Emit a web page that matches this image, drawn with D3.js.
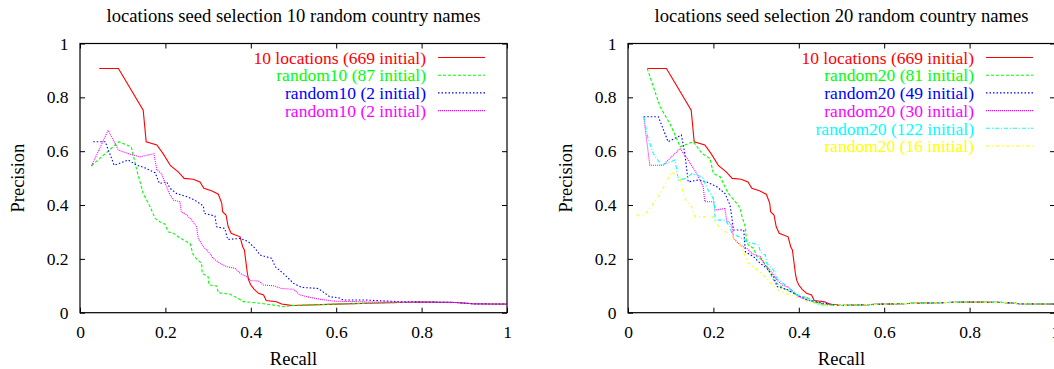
<!DOCTYPE html>
<html>
<head>
<meta charset="utf-8">
<script src="https://d3js.org/d3.v7.min.js"></script>
<style>
  body { margin: 0; background: #fff; }
  svg { display: block; }
  text { font-family: "Liberation Serif", "Times New Roman", serif; }
</style>
</head>
<body>
<script>
// ---- data (recall, precision) ----
let tail = [[0.5, 0.027], [0.6, 0.032], [0.7, 0.036], [0.8, 0.040], [0.88, 0.038], [0.92, 0.033], [1.0, 0.032]];

let locations10 = [[0.045, 0.907], [0.09, 0.907], [0.148, 0.752], [0.155, 0.635], [0.18, 0.623], [0.195, 0.59],
  [0.212, 0.546], [0.23, 0.523], [0.244, 0.499], [0.265, 0.496], [0.281, 0.486], [0.29, 0.462], [0.308, 0.453],
  [0.324, 0.44], [0.332, 0.406], [0.334, 0.375], [0.342, 0.363], [0.347, 0.32], [0.354, 0.295], [0.375, 0.282],
  [0.381, 0.245], [0.385, 0.233], [0.389, 0.183], [0.392, 0.146], [0.395, 0.121], [0.4, 0.103], [0.408, 0.087],
  [0.418, 0.072], [0.43, 0.066], [0.436, 0.045], [0.46, 0.041], [0.472, 0.032], [0.49, 0.028]].concat(tail);

let random10_87 = [[0.027, 0.546], [0.091, 0.635], [0.12, 0.616], [0.133, 0.53], [0.148, 0.443], [0.164, 0.394],
  [0.176, 0.35], [0.187, 0.338], [0.199, 0.329], [0.207, 0.3], [0.219, 0.295], [0.23, 0.282], [0.246, 0.267],
  [0.258, 0.257], [0.264, 0.22], [0.273, 0.2], [0.285, 0.183], [0.286, 0.146], [0.3, 0.134], [0.302, 0.103],
  [0.32, 0.099], [0.324, 0.074], [0.351, 0.069], [0.367, 0.056], [0.383, 0.041], [0.422, 0.035], [0.46, 0.027],
  [0.476, 0.022], [0.49, 0.025]].concat(tail);

let random10_2a = [[0.031, 0.635], [0.059, 0.635], [0.08, 0.548], [0.113, 0.567], [0.133, 0.548], [0.152, 0.538],
  [0.176, 0.52], [0.186, 0.48], [0.203, 0.486], [0.211, 0.462], [0.226, 0.443], [0.25, 0.431], [0.269, 0.418],
  [0.289, 0.396], [0.291, 0.369], [0.316, 0.359], [0.32, 0.319], [0.339, 0.313], [0.346, 0.272], [0.375, 0.276],
  [0.394, 0.264], [0.41, 0.239], [0.422, 0.214], [0.449, 0.202], [0.457, 0.171], [0.476, 0.146], [0.5, 0.109],
  [0.519, 0.094], [0.558, 0.09], [0.574, 0.072], [0.585, 0.059], [0.605, 0.056], [0.617, 0.047], [0.671, 0.047],
  [0.749, 0.041], [0.8, 0.040], [0.88, 0.038], [0.92, 0.033], [1.0, 0.032]];

let random10_2b = [[0.027, 0.546], [0.066, 0.678], [0.09, 0.604], [0.117, 0.589], [0.141, 0.579], [0.173, 0.591],
  [0.18, 0.53], [0.191, 0.517], [0.201, 0.474], [0.211, 0.437], [0.219, 0.418], [0.234, 0.412], [0.237, 0.375],
  [0.25, 0.363], [0.262, 0.344], [0.273, 0.319], [0.277, 0.276], [0.289, 0.245], [0.301, 0.226], [0.312, 0.202],
  [0.328, 0.183], [0.343, 0.171], [0.363, 0.165], [0.375, 0.146], [0.39, 0.134], [0.4, 0.119], [0.418, 0.118],
  [0.429, 0.103], [0.453, 0.1], [0.472, 0.09], [0.5, 0.087], [0.515, 0.066], [0.539, 0.057], [0.562, 0.05],
  [0.593, 0.043], [0.671, 0.040], [0.8, 0.040], [0.88, 0.038], [0.92, 0.033], [1.0, 0.032]];

let random20_81 = [[0.045, 0.907], [0.075, 0.765], [0.098, 0.703], [0.114, 0.647], [0.122, 0.616], [0.153, 0.635],
  [0.173, 0.592], [0.192, 0.573], [0.2, 0.517], [0.216, 0.505], [0.227, 0.468], [0.235, 0.443], [0.255, 0.406],
  [0.263, 0.387], [0.267, 0.356], [0.275, 0.319], [0.277, 0.27], [0.282, 0.251], [0.294, 0.239], [0.302, 0.208],
  [0.314, 0.196], [0.325, 0.171], [0.333, 0.146], [0.341, 0.121], [0.357, 0.097], [0.38, 0.078], [0.4, 0.062],
  [0.42, 0.056], [0.435, 0.041], [0.459, 0.032], [0.49, 0.028]].concat(tail);

let random20_49 = [[0.037, 0.728], [0.071, 0.728], [0.094, 0.635], [0.125, 0.66], [0.133, 0.592], [0.141, 0.486],
  [0.165, 0.493], [0.184, 0.486], [0.208, 0.468], [0.227, 0.443], [0.239, 0.4], [0.243, 0.356], [0.247, 0.307],
  [0.271, 0.307], [0.275, 0.226], [0.294, 0.208], [0.31, 0.183], [0.325, 0.165], [0.341, 0.134], [0.349, 0.097],
  [0.376, 0.084], [0.404, 0.059], [0.42, 0.047], [0.459, 0.035], [0.49, 0.028]].concat(tail);

let random20_30 = [[0.037, 0.728], [0.051, 0.548], [0.082, 0.548], [0.122, 0.61], [0.141, 0.567], [0.161, 0.517],
  [0.176, 0.468], [0.18, 0.412], [0.2, 0.412], [0.204, 0.381], [0.227, 0.387], [0.231, 0.344], [0.243, 0.325],
  [0.247, 0.276], [0.263, 0.251], [0.278, 0.239], [0.29, 0.22], [0.31, 0.208], [0.318, 0.183], [0.333, 0.158],
  [0.349, 0.121], [0.361, 0.103], [0.376, 0.094], [0.388, 0.078], [0.4, 0.059], [0.42, 0.047], [0.459, 0.032],
  [0.49, 0.028]].concat(tail);

let random20_122 = [[0.037, 0.728], [0.047, 0.647], [0.059, 0.592], [0.078, 0.548], [0.11, 0.567], [0.118, 0.493],
  [0.137, 0.499], [0.149, 0.517], [0.173, 0.505], [0.188, 0.455], [0.202, 0.418], [0.204, 0.344], [0.227, 0.344],
  [0.239, 0.319], [0.243, 0.295], [0.267, 0.276], [0.278, 0.264], [0.294, 0.257], [0.306, 0.251], [0.31, 0.226],
  [0.322, 0.214], [0.325, 0.183], [0.341, 0.158], [0.349, 0.127], [0.373, 0.097], [0.396, 0.066], [0.42, 0.053],
  [0.443, 0.032], [0.467, 0.026], [0.49, 0.027]].concat(tail);

let random20_16 = [[0.02, 0.363], [0.039, 0.363], [0.059, 0.406], [0.078, 0.449], [0.102, 0.523], [0.122, 0.499],
  [0.128, 0.449], [0.137, 0.412], [0.149, 0.394], [0.157, 0.356], [0.184, 0.356], [0.196, 0.363], [0.204, 0.338],
  [0.22, 0.307], [0.235, 0.295], [0.247, 0.276], [0.263, 0.251], [0.275, 0.208], [0.282, 0.183], [0.298, 0.165],
  [0.306, 0.156], [0.325, 0.127], [0.341, 0.097], [0.357, 0.078], [0.38, 0.066], [0.404, 0.053], [0.42, 0.041],
  [0.459, 0.028], [0.49, 0.027]].concat(tail);

let titles = ["locations seed selection 10 random country names", "locations seed selection 20 random country names"];
let labels10 = ["10 locations (669 initial)", "random10 (87 initial)", "random10 (2 initial)", "random10 (2 initial)"];
let labels20 = ["10 locations (669 initial)", "random20 (81 initial)", "random20 (49 initial)", "random20 (30 initial)",
  "random20 (122 initial)", "random20 (16 initial)"];
let ticks = [0, 0.2, 0.4, 0.6, 0.8, 1];

// gnuplot style line types
let colors = ["#ff0000", "#00ff00", "#0000ff", "#ff00ff", "#00ffff", "#ffff00"];
let dashes = [null, "3,2", "1.5,2", "1,1", "4,2,1,2", "3,3,1,3"];

let W = 1054, H = 369;
let plotW = 427, plotTop = 43.5, plotBottom = 312.7;
let fontSize = 17.5;

let svg = d3.select("body").append("svg").attr("width", W).attr("height", H);

function drawPanel(x0, title, series, labels) {
  let x = d3.scaleLinear().domain([0, 1]).range([x0, x0 + plotW]);
  let y = d3.scaleLinear().domain([0, 1]).range([plotBottom, plotTop]);
  let g = svg.append("g");

  // axes, gnuplot style inward ticks on all four sides
  let fmt = d => String(d);
  let ax = g.append("g").attr("transform", `translate(0,${plotBottom})`)
    .call(d3.axisBottom(x).tickValues(ticks).tickFormat(fmt).tickSizeInner(-5).tickSizeOuter(0).tickPadding(12.5));
  g.append("g").attr("transform", `translate(${x0},0)`)
    .call(d3.axisLeft(y).tickValues(ticks).tickFormat(fmt).tickSizeInner(-5).tickSizeOuter(0).tickPadding(11.5));
  g.append("g").attr("transform", `translate(0,${plotTop})`)
    .call(d3.axisTop(x).tickValues(ticks).tickFormat("").tickSizeInner(-5).tickSizeOuter(0));
  g.append("g").attr("transform", `translate(${x0 + plotW},0)`)
    .call(d3.axisRight(y).tickValues(ticks).tickFormat("").tickSizeInner(-5).tickSizeOuter(0));
  g.selectAll(".domain").remove();
  g.selectAll(".tick line").attr("stroke", "#000");
  g.selectAll(".tick text").attr("font-family", "Liberation Serif").attr("font-size", fontSize).attr("fill", "#000");
  ax.selectAll(".tick text").attr("dy", "0.71em");

  g.append("rect").attr("x", x0).attr("y", plotTop).attr("width", plotW).attr("height", plotBottom - plotTop)
    .attr("fill", "none").attr("stroke", "#000").attr("stroke-width", 1.2);

  // title and axis labels
  g.append("text").attr("x", x0 + plotW / 2).attr("y", 22).attr("text-anchor", "middle")
    .attr("font-size", 18.6).text(title);
  g.append("text").attr("x", x0 + plotW / 2).attr("y", 364.5).attr("text-anchor", "middle")
    .attr("font-size", fontSize + 1).text("Recall");
  g.append("text").attr("transform", `translate(${x0 - 56.5},${(plotTop + plotBottom) / 2}) rotate(-90)`)
    .attr("text-anchor", "middle").attr("font-size", fontSize + 1).text("Precision");

  // curves
  let line = d3.line().x(d => x(d[0])).y(d => y(d[1]));
  series.forEach((s, i) => {
    g.append("path").datum(s).attr("d", line).attr("fill", "none")
      .attr("stroke", colors[i]).attr("stroke-width", 1.1)
      .attr("stroke-dasharray", dashes[i]);
  });

  // key
  let xr = x0 + plotW;
  labels.forEach((lab, i) => {
    let yy = 58 + i * 17.7;
    g.append("text").attr("x", xr - 81).attr("y", yy).attr("dy", "0.33em").attr("text-anchor", "end")
      .attr("font-size", fontSize).attr("fill", colors[i]).text(lab);
    g.append("line").attr("x1", xr - 69).attr("x2", xr - 22).attr("y1", yy - 0.5).attr("y2", yy - 0.5)
      .attr("stroke", colors[i]).attr("stroke-width", 1.1).attr("stroke-dasharray", dashes[i]);
  });
}

drawPanel(80, titles[0], [locations10, random10_87, random10_2a, random10_2b], labels10);
drawPanel(628, titles[1], [locations10, random20_81, random20_49, random20_30, random20_122, random20_16], labels20);
</script>
</body>
</html>
